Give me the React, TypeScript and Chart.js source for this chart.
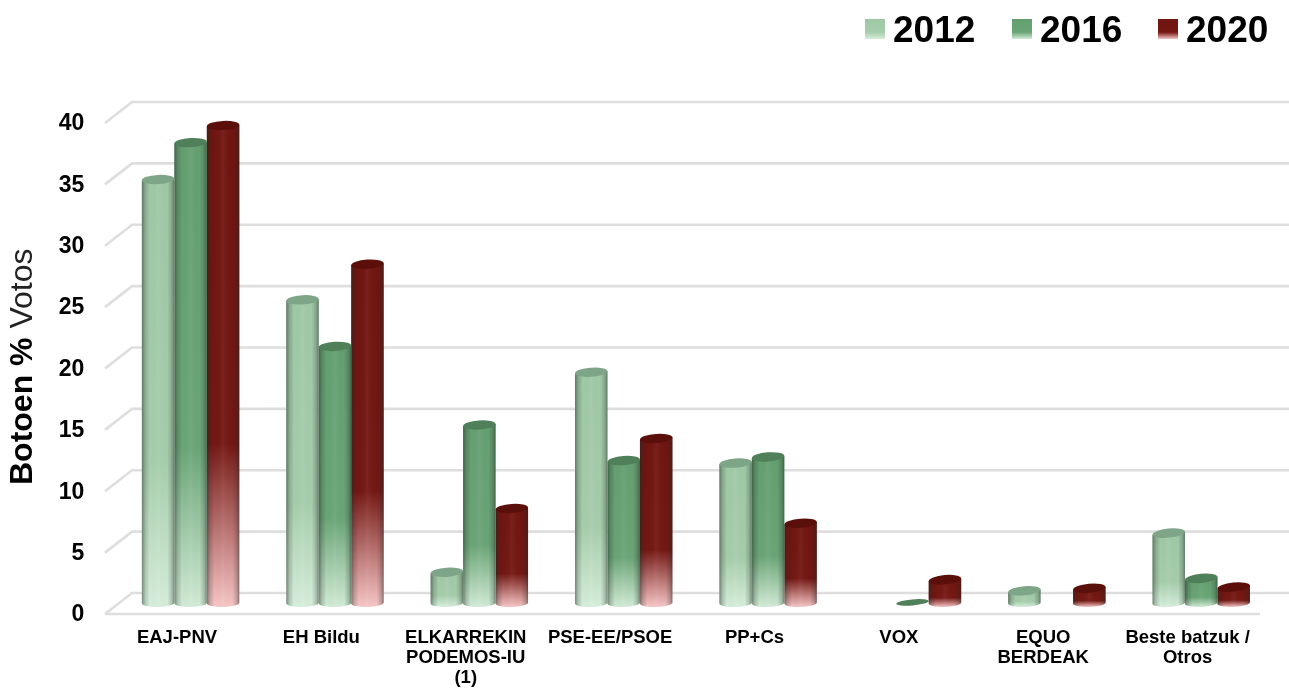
import React, { useEffect, useRef } from "react";
import { Chart, registerables } from "chart.js";

Chart.register(...registerables);

const categories: (string | string[])[] = [
  "EAJ-PNV",
  "EH Bildu",
  ["ELKARREKIN", "PODEMOS-IU", "(1)"],
  "PSE-EE/PSOE",
  "PP+Cs",
  "VOX",
  ["EQUO", "BERDEAK"],
  ["Beste batzuk /", "Otros"],
];
const values2012 = [34.5, 24.7, 2.5, 18.8, 11.4, null, 1.0, 5.7];
const values2016 = [37.5, 20.9, 14.5, 11.6, 11.9, 0.05, null, 2.0];
const values2020 = [38.9, 27.6, 7.7, 13.4, 6.5, 1.9, 1.2, 1.3];
const yTickValues = [0, 5, 10, 15, 20, 25, 30, 35, 40];
const titleBold = "Botoen %";
const titleLight = " Votos";

const FONT = '"Liberation Sans", Arial, sans-serif';
const PX_PER_UNIT = 12.275;
const AREA_TOP = 90;
const AREA_BOTTOM = 615;
const BASE_Y = 603;
const LABEL_ZERO_Y = 615;
const WALL_DY = -10;
const FRONT_DY = 11;

type Look = { top: string; mid: string; low: string; cap: string };
const looks: Look[] = [
  { top: "#9fc8a5", mid: "#a6cdab", low: "#d6eedb", cap: "#7ea587" },
  { top: "#649f70", mid: "#6aa576", low: "#d2ebd6", cap: "#4f8059" },
  { top: "#711510", mid: "#741713", low: "#f7c6c6", cap: "#5b0f0b" },
];

function fillBody(ctx: CanvasRenderingContext2D, look: Look, yTop: number, yBase: number) {
  const g = ctx.createLinearGradient(0, yTop, 0, yBase + 4);
  g.addColorStop(0, look.top);
  g.addColorStop(0.66, look.mid);
  g.addColorStop(1, look.low);
  return g;
}

const cylinderPlugin = {
  id: "cylinders",
  beforeDatasetDraw(chart: any, args: any) {
    const ctx: CanvasRenderingContext2D = chart.ctx;
    const look = looks[args.index];
    const meta = args.meta;
    meta.data.forEach((bar: any, i: number) => {
      const v = chart.data.datasets[args.index].data[i];
      if (v === null || v === undefined) return;
      const { x, y, base, width } = bar.getProps(["x", "y", "base", "width"], true);
      const rx = width / 2;
      const tilt = -(0.05 + (0.05 * (x - 190)) / 1010);
      const baseTilt = tilt * 0.4;
      const ryTop = 4.6;
      const ryBase = 4;
      const solid = base - y > 1.5;
      ctx.save();
      if (solid) {
        const dyTop = rx * Math.sin(tilt);
        const dyBase = rx * Math.sin(baseTilt);
        ctx.beginPath();
        ctx.moveTo(x - rx, y - dyTop);
        ctx.lineTo(x - rx, base - dyBase);
        ctx.ellipse(x, base, rx, ryBase, baseTilt, Math.PI, 0, true);
        ctx.lineTo(x + rx, y + dyTop);
        ctx.closePath();
        ctx.fillStyle = fillBody(ctx, look, y, base);
        ctx.fill();
        const h = ctx.createLinearGradient(x - rx, 0, x + rx, 0);
        h.addColorStop(0, "rgba(30,40,35,0.5)");
        h.addColorStop(0.1, "rgba(30,40,35,0.2)");
        h.addColorStop(0.24, "rgba(30,40,35,0)");
        h.addColorStop(0.5, "rgba(255,255,255,0.05)");
        h.addColorStop(0.78, "rgba(30,40,35,0)");
        h.addColorStop(0.92, "rgba(30,40,35,0.22)");
        h.addColorStop(1, "rgba(30,40,35,0.5)");
        ctx.fillStyle = h;
        ctx.fill();
      }
      ctx.beginPath();
      ctx.ellipse(x, y, rx, solid ? ryTop : 3, tilt, 0, Math.PI * 2);
      ctx.fillStyle = look.cap;
      ctx.fill();
      ctx.restore();
    });
    return false;
  },
};

const wallPlugin = {
  id: "wall",
  beforeDatasetsDraw(chart: any) {
    const ctx: CanvasRenderingContext2D = chart.ctx;
    const scale = chart.scales.y;
    ctx.save();
    ctx.strokeStyle = "#dedede";
    ctx.lineWidth = 2.6;
    yTickValues.forEach((v) => {
      const py = scale.getPixelForValue(v);
      ctx.beginPath();
      ctx.moveTo(105, py + FRONT_DY);
      ctx.lineTo(132, py + WALL_DY);
      ctx.lineTo(1289, py + WALL_DY);
      if (v === 0) {
        ctx.moveTo(105, py + FRONT_DY);
        ctx.lineTo(1260, py + FRONT_DY);
      }
      ctx.stroke();
    });
    ctx.restore();
  },
};

const textPlugin = {
  id: "texts",
  afterDraw(chart: any) {
    const ctx: CanvasRenderingContext2D = chart.ctx;
    ctx.save();
    // axis title
    ctx.translate(23, 485);
    ctx.rotate(-Math.PI / 2);
    ctx.fillStyle = "#000";
    ctx.textAlign = "left";
    ctx.textBaseline = "middle";
    ctx.font = `bold 32px ${FONT}`;
    ctx.fillText(titleBold, 0, 0);
    const w = ctx.measureText(titleBold).width;
    ctx.font = `32px ${FONT}`;
    ctx.fillStyle = "#222";
    ctx.fillText(titleLight, w, 0);
    ctx.restore();

    // legend
    const xs = [865, 1012, 1158];
    ctx.save();
    chart.data.datasets.forEach((d: any, i: number) => {
      const look = looks[i];
      const g = ctx.createLinearGradient(0, 19, 0, 39);
      g.addColorStop(0, look.top);
      g.addColorStop(0.66, look.mid);
      g.addColorStop(1, look.low);
      ctx.fillStyle = g;
      ctx.fillRect(xs[i], 19, 20, 20);
      ctx.fillStyle = "#000";
      ctx.font = `bold 37px ${FONT}`;
      ctx.textAlign = "left";
      ctx.textBaseline = "middle";
      ctx.fillText(d.label, xs[i] + 28, 32);
    });
    ctx.restore();
  },
};

export default function App() {
  const ref = useRef<HTMLCanvasElement | null>(null);
  useEffect(() => {
    if (!ref.current) return;
    const setTicks = (s: any) => {
      s.ticks = yTickValues.map((value) => ({ value }));
    };
    const ds = (label: string, data: (number | null)[], color: string) => ({
      label,
      data,
      backgroundColor: color,
      borderWidth: 0,
      categoryPercentage: 0.675,
      barPercentage: 1,
      clip: false as any,
      yAxisID: "y",
    });
    const chart = new Chart(ref.current, {
      type: "bar",
      data: {
        labels: categories as any,
        datasets: [
          ds("2012", values2012, looks[0].mid),
          ds("2016", values2016, looks[1].mid),
          ds("2020", values2020, looks[2].mid),
        ],
      },
      options: {
        responsive: false,
        animation: false,
        layout: { padding: { top: AREA_TOP, right: 15.6, left: 0, bottom: 0 } },
        plugins: { legend: { display: false }, tooltip: { enabled: false } },
        scales: {
          x: {
            grid: { display: false },
            border: { display: false },
            ticks: {
              color: "#000",
              font: { family: FONT, weight: "bold", size: 18.5, lineHeight: 1.08 },
              padding: 5,
              labelOffset: -13.6,
              maxRotation: 0,
              autoSkip: false,
            },
            afterFit: (s: any) => {
              s.height = 690 - AREA_BOTTOM;
            },
          },
          y: {
            display: false,
            min: (BASE_Y - AREA_BOTTOM) / PX_PER_UNIT,
            max: (BASE_Y - AREA_TOP) / PX_PER_UNIT,
            afterBuildTicks: setTicks,
          },
          yLabels: {
            position: "left",
            min: (LABEL_ZERO_Y - AREA_BOTTOM) / PX_PER_UNIT,
            max: (LABEL_ZERO_Y - AREA_TOP) / PX_PER_UNIT,
            grid: { display: false, drawTicks: false },
            border: { display: false },
            afterBuildTicks: setTicks,
            ticks: {
              color: "#000",
              font: { family: FONT, weight: "bold", size: 23 },
              padding: 34,
              autoSkip: false,
            },
            afterFit: (s: any) => {
              s.width = 118.4;
            },
          },
        } as any,
      },
      plugins: [wallPlugin, cylinderPlugin, textPlugin],
    });
    return () => chart.destroy();
  }, []);
  return (
    <div style={{ position: "fixed", left: 0, top: 0, width: 1289, height: 690, background: "#fff" }}>
      <canvas ref={ref} width={1289} height={690} style={{ display: "block" }} />
    </div>
  );
}
